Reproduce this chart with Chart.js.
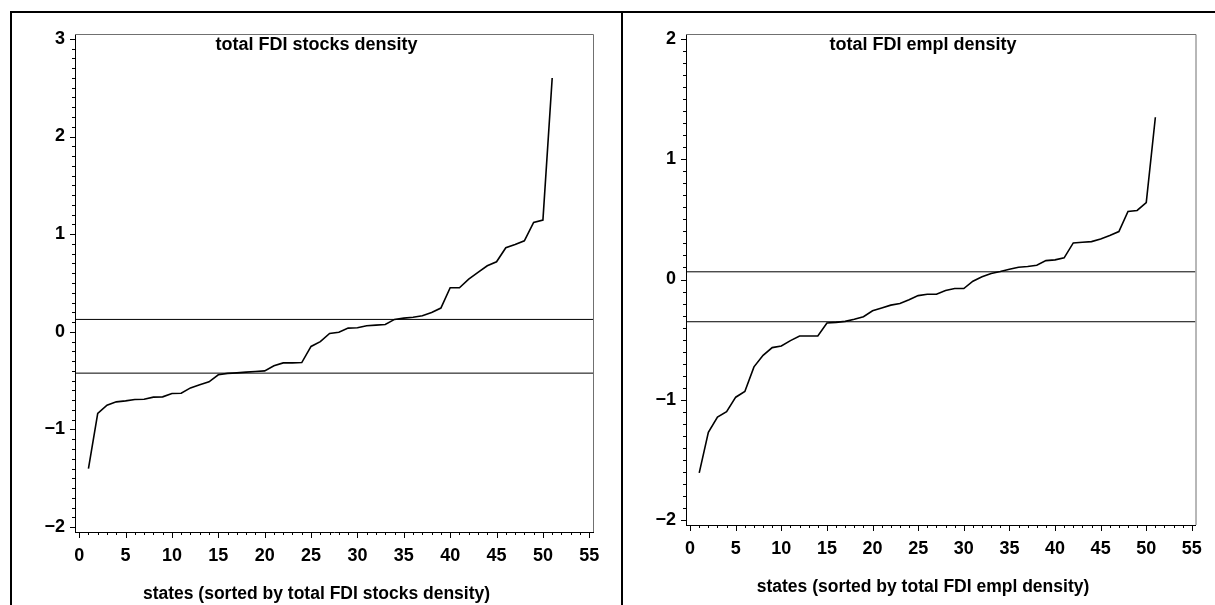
<!DOCTYPE html>
<html><head><meta charset="utf-8">
<script src="https://cdn.jsdelivr.net/npm/chart.js@4.4.0/dist/chart.umd.min.js"></script>
<style>
html,body{margin:0;padding:0;background:#fff;width:1215px;height:605px;overflow:hidden;position:relative}
.frame{position:absolute;background:#000}
canvas{position:absolute;top:0}
</style></head><body>
<div class="frame" style="left:10px;top:11px;width:2px;height:600px"></div>
<div class="frame" style="left:10px;top:11px;width:1210px;height:2px"></div>
<div class="frame" style="left:621px;top:11px;width:2px;height:600px"></div>
<canvas id="c1" width="611" height="605" style="left:11px"></canvas>
<canvas id="c2" width="593" height="605" style="left:622px"></canvas>
<script>
// ---- data ----
const stateRanks = [1,2,3,4,5,6,7,8,9,10,11,12,13,14,15,16,17,18,19,20,21,22,23,24,25,26,27,28,29,30,31,32,33,34,35,36,37,38,39,40,41,42,43,44,45,46,47,48,49,50,51];
const stocksDensity = [-1.40,-0.836,-0.751,-0.717,-0.707,-0.693,-0.690,-0.669,-0.666,-0.632,-0.629,-0.574,-0.543,-0.512,-0.440,-0.426,-0.420,-0.413,-0.406,-0.400,-0.348,-0.318,-0.318,-0.315,-0.150,-0.100,-0.017,-0.005,0.038,0.041,0.062,0.069,0.075,0.127,0.140,0.150,0.164,0.198,0.243,0.451,0.451,0.540,0.608,0.676,0.717,0.861,0.895,0.932,1.120,1.144,2.600];
const emplDensity = [-1.607,-1.270,-1.143,-1.099,-0.978,-0.931,-0.726,-0.630,-0.566,-0.552,-0.508,-0.470,-0.470,-0.470,-0.362,-0.356,-0.348,-0.331,-0.309,-0.260,-0.237,-0.213,-0.199,-0.168,-0.134,-0.122,-0.122,-0.091,-0.075,-0.075,-0.014,0.022,0.050,0.066,0.085,0.102,0.108,0.119,0.157,0.163,0.180,0.304,0.309,0.315,0.337,0.365,0.398,0.566,0.574,0.640,1.348];
const stocksRefLines = [0.127, -0.423];
const emplRefLines = [0.064, -0.351];
const xTickLabels = [0,5,10,15,20,25,30,35,40,45,50,55];
const stocksYTickLabels = [-2,-1,0,1,2,3];
const emplYTickLabels = [-2,-1,0,1,2];
const titles = ['total FDI stocks density', 'total FDI empl density'];
const xTitles = ['states (sorted by total FDI stocks density)', 'states (sorted by total FDI empl density)'];

const FONT = '"Liberation Sans", Arial, sans-serif';

const decorPlugin = {
  id: 'decor',
  afterDraw(chart, args, opts) {
    const {ctx, chartArea: a, scales: {x, y}} = chart;
    ctx.save();
    ctx.lineWidth = 1;
    ctx.strokeStyle = '#707070';
    ctx.beginPath();
    ctx.moveTo(a.left, a.top + 0.5);
    ctx.lineTo(a.right + 0.5, a.top + 0.5);
    ctx.lineTo(a.right + 0.5, a.bottom);
    ctx.stroke();
    ctx.strokeStyle = '#000';
    ctx.beginPath();
    y.ticks.forEach(t => {
      const p = Math.round(y.getPixelForValue(t.value)) + 0.5;
      const major = Math.abs(t.value - Math.round(t.value)) < 1e-6;
      ctx.moveTo(a.left, p); ctx.lineTo(a.left - (major ? 5 : 3), p);
    });
    x.ticks.forEach(t => {
      const p = Math.round(x.getPixelForValue(t.value)) + 0.5;
      const major = Math.round(t.value) % 5 === 0;
      ctx.moveTo(p, a.bottom); ctx.lineTo(p, a.bottom + (major ? 6 : 3));
    });
    ctx.stroke();
    ctx.fillStyle = '#000';
    ctx.textAlign = 'center';
    ctx.textBaseline = 'alphabetic';
    ctx.font = 'bold 18px ' + FONT;
    ctx.fillText(opts.title, opts.titleX, a.top + 16);
    ctx.font = 'bold 17.5px ' + FONT;
    ctx.fillText(opts.xTitle, opts.titleX, opts.xTitleY);
    ctx.restore();
  }
};

function makeChart(id, values, refs, yMin, yMax, yLabels, idx, geo) {
  const xMin = -0.45, xMax = 55.4;
  const datasets = [{
    data: stateRanks.map((r, i) => ({x: r, y: values[i]})),
    borderColor: '#000', borderWidth: 1.6, pointRadius: 0, tension: 0, fill: false
  }];
  refs.forEach(v => datasets.push({
    data: [{x: xMin, y: v}, {x: xMax, y: v}],
    borderColor: '#000', borderWidth: 1, pointRadius: 0, fill: false
  }));
  return new Chart(document.getElementById(id), {
    type: 'line',
    data: {datasets},
    plugins: [decorPlugin],
    options: {
      responsive: false, animation: false, devicePixelRatio: 1,
      layout: {padding: {top: 34, right: geo.right, left: 0, bottom: 0}},
      plugins: {
        legend: {display: false}, tooltip: {enabled: false}, title: {display: false},
        decor: {title: titles[idx], xTitle: xTitles[idx], titleX: geo.titleX, xTitleY: geo.xTitleY}
      },
      scales: {
        x: {
          type: 'linear', min: xMin, max: xMax,
          grid: {display: false, drawTicks: false},
          border: {display: true, color: '#000', width: 1},
          afterBuildTicks: s => { const t = []; for (let v = 0; v <= 55; v++) t.push({value: v}); s.ticks = t; },
          afterFit: s => { s.height = geo.xHeight; },
          ticks: {
            autoSkip: false, maxRotation: 0, padding: 13, color: '#000',
            font: {family: FONT, size: 18, weight: 'bold'},
            callback: v => xTickLabels.includes(v) ? String(v) : ''
          }
        },
        y: {
          type: 'linear', min: yMin, max: yMax,
          grid: {display: false, drawTicks: false},
          border: {display: true, color: '#000', width: 1},
          afterBuildTicks: s => { const t = []; for (let k = Math.ceil(yMin * 10); k <= Math.floor(yMax * 10); k++) t.push({value: k / 10}); s.ticks = t; },
          afterFit: s => { s.width = 64; },
          ticks: {
            autoSkip: false, padding: 10, color: '#000',
            font: {family: FONT, size: 18, weight: 'bold'},
            callback: v => { const r = Math.round(v); return (Math.abs(v - r) < 1e-6 && yLabels.includes(r)) ? (r < 0 ? '\u2212' + Math.abs(r) : String(r)) : ''; }
          }
        }
      }
    }
  });
}

makeChart('c1', stocksDensity, stocksRefLines, -2.05, 3.05, stocksYTickLabels, 0,
  {right: 29, xHeight: 73, titleX: 305.5, xTitleY: 599});
makeChart('c2', emplDensity, emplRefLines, -2.04, 2.04, emplYTickLabels, 1,
  {right: 18, xHeight: 80, titleX: 301, xTitleY: 592});
</script>
</body></html>
